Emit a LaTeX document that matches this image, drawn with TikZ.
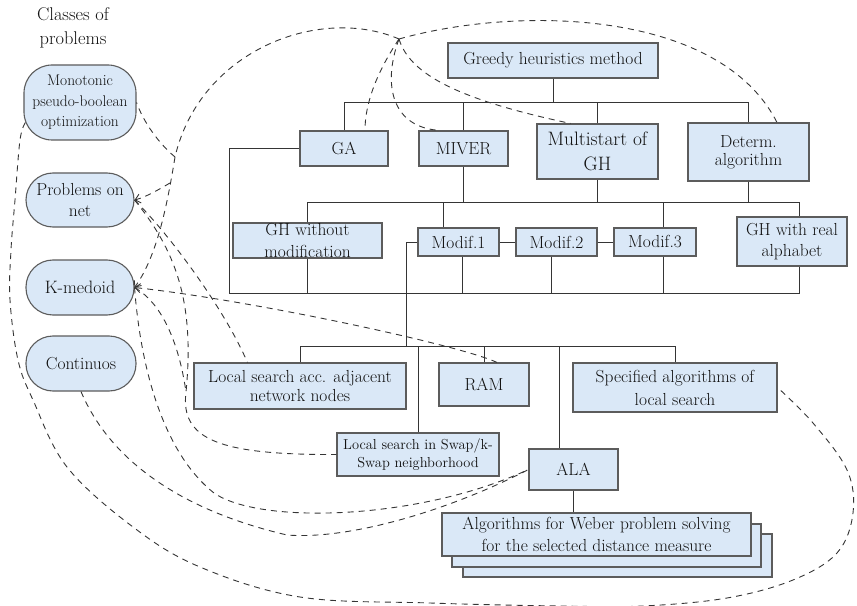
\documentclass[tikz,border=0pt]{standalone}
\usetikzlibrary{arrows.meta,calc}
\definecolor{boxfill}{HTML}{DAE8F7}
\definecolor{boxline}{HTML}{5C5C5C}
\definecolor{wire}{HTML}{353535}
\definecolor{ink}{HTML}{111111}
\newcommand{\fsz}[2]{\fontsize{#1}{#2}\selectfont}
\tikzset{
  box/.style={draw=boxline, fill=boxfill, line width=1.1bp, inner sep=0pt,
    align=center, text=ink, font=\fsz{17.5}{21.5}},
  cls/.style={box, rounded corners=27bp},
  tree/.style={draw=wire, line width=1bp},
  link/.style={draw=wire, line width=0.9bp, dash pattern=on 6bp off 5bp},
  tip/.style={-{Straight Barb[length=5bp,width=9bp]}},
}
\begin{document}
\begin{tikzpicture}[x=1bp,y=-1bp]
\useasboundingbox (0,0) rectangle (857,606);

% classes of problems
\node[font=\fsz{18.5}{24}, align=center, text=ink] (classes) at (73,28) {Classes of\\problems};
\node[cls, rounded corners=28bp, minimum width=112bp, minimum height=75bp,
  font=\fsz{15.5}{20.5}] (mono) at (80,102.5) {Monotonic\\pseudo-boolean\\optimization};
\node[cls, minimum width=108bp, minimum height=54bp] (prob) at (80,200) {Problems on\\net};
\node[cls, minimum width=108bp, minimum height=55bp, font=\fsz{18}{22}] (kmed) at (80,287.5) {K-medoid};
\node[cls, minimum width=110bp, minimum height=55bp] (cont) at (81,363.5) {Continuos};

% method tree
\node[box, minimum width=210bp, minimum height=35bp] (greedy) at (553,60.5) {Greedy heuristics method};
\node[box, minimum width=88bp, minimum height=35bp] (ga) at (344,148.5) {GA};
\node[box, minimum width=89bp, minimum height=35bp] (miver) at (463.5,148.5) {MIVER};
\node[box, minimum width=121bp, minimum height=55bp, font=\fsz{19.5}{25}] (multi) at (597.5,151.5) {Multistart of\\GH};
\node[box, minimum width=121bp, minimum height=58bp, font=\fsz{17.5}{18}] (determ) at (748.5,152) {Determ.\\algorithm};
\node[box] (ghwo) at (307.5,240.5) {\parbox[c][35bp][c]{149bp}{\centering GH without\\modification}};
\node[box, minimum width=81bp, minimum height=28bp] (m1) at (458.5,242) {Modif.1};
\node[box, minimum width=81bp, minimum height=28bp] (m2) at (556.5,242) {Modif.2};
\node[box, minimum width=82bp, minimum height=28bp] (m3) at (655,242) {Modif.3};
\node[box, minimum width=110bp, minimum height=49bp] (ghreal) at (792,241.5) {GH with real\\alphabet};

% local search level
\node[box, minimum width=212bp, minimum height=46bp, font=\fsz{17.5}{20}] (lsa) at (300,386) {Local search acc. adjacent\\network nodes};
\node[box, minimum width=90bp, minimum height=43bp] (ram) at (484,384.5) {RAM};
\node[box, minimum width=204bp, minimum height=49bp, font=\fsz{17.5}{23}] (spec) at (675,387.5) {Specified algorithms of\\local search};
\node[box, minimum width=162bp, minimum height=43bp, font=\fsz{14.5}{18.5}] (swap) at (418,454.5) {Local search in Swap/k-\\Swap neighborhood};
\node[box, minimum width=89bp, minimum height=41bp] (ala) at (573.5,469.5) {ALA};
\node[box, minimum width=309bp, minimum height=43bp] (weber3) at (617.5,555.5) {};
\node[box, minimum width=309bp, minimum height=43bp] (weber2) at (606.5,545.5) {};
\node[box, minimum width=309bp, minimum height=43bp, font=\fsz{17.5}{22}] (weber) at (596.5,534.5) {Algorithms for Weber problem solving\\for the selected distance measure};

% bus levels
\coordinate (bA) at (0,103);
\coordinate (bB) at (0,203);
\coordinate (cL) at (229,293);
\coordinate (bD) at (406,346);
\coordinate (grt) at ($(ghreal.north)+(7,0)$);
\coordinate (grb) at ($(ghreal.south)+(7,0)$);
\coordinate (m1t) at ($(m1.north)+(-15.5,0)$);
\coordinate (m1b) at ($(m1.south)+(3.5,0)$);
\coordinate (m2b) at ($(m2.south)+(-5.5,0)$);
\coordinate (m3t) at ($(m3.north)+(8,0)$);
\coordinate (m3b) at ($(m3.south)+(8,0)$);
\coordinate (alat) at ($(ala.north)+(-14.5,0)$);

\draw[tree] (greedy.south) -- (greedy.south |- bA);
\draw[tree] (ga.north) |- (bA -| determ.north) -- (determ.north);
\draw[tree] (miver.north) -- (miver.north |- bA);
\draw[tree] (multi.north) -- (multi.north |- bA);

\draw[tree] (ghwo.north) |- (bB -| grt) -- (grt);
\draw[tree] (miver.south) -- (miver.south |- bB);
\draw[tree] (multi.south) -- (multi.south |- bB);
\draw[tree] (determ.south) -- (determ.south |- bB);
\draw[tree] (m1t) -- (m1t |- bB);
\draw[tree] (m3t) -- (m3t |- bB);

\draw[tree] (ga.west) -| (cL) -- (cL -| grb) -- (grb);
\draw[tree] (ghwo.south) -- (ghwo.south |- cL);
\draw[tree] (m1b) -- (m1b |- cL);
\draw[tree] (m2b) -- (m2b |- cL);
\draw[tree] (m3b) -- (m3b |- cL);
\draw[tree] (m1.east) -- (m2.west);
\draw[tree] (m2.east) -- (m3.west);

\draw[tree] (m1.west) -| (bD);
\draw[tree] (lsa.north) |- (bD -| spec.north) -- (spec.north);
\draw[tree] (swap.north) -- (swap.north |- bD);
\draw[tree] (ram.north) -- (ram.north |- bD);
\draw[tree] (alat) -- (alat |- bD);
\draw[tree] (ala.south) -- (ala.south |- weber.north);

% dashed relations between problem classes and methods
\coordinate (H) at (399,39);
\coordinate (J1) at (175,157);
\coordinate (J2) at (170,183);
\coordinate (M) at (186,392);

\draw[link, tip] (H) .. controls (320,5) and (200,50) .. (J1)
  .. controls (168,200) and (158,255) .. (kmed.east);
\draw[link] (J1) .. controls (155,140) and (142,118) .. (mono.east);
\draw[link, tip] (J2) .. controls (158,190) and (146,197) .. (prob.east);

\draw[link] (H) .. controls (385,60) and (365,95) .. ($(ga.north)+(21,0)$);
\draw[link] (H) .. controls (382,85) and (392,128) .. ($(miver.north)+(-23,0)$);
\draw[link] (H) .. controls (410,75) and (460,100) .. ($(multi.north)+(-27,0)$);
\draw[link] (H) .. controls (520,5) and (720,10) .. ($(determ.north)+(28.5,0)$);

\draw[link, tip] ($(ram.north)+(13,0)$) .. controls (460,345) and (250,300) .. (kmed.east);
\draw[link] (prob.east) .. controls (170,235) and (225,310) .. ($(lsa.north west)+(54,0)$);
\draw[link] (prob.east) .. controls (175,250) and (195,300) .. (M)
  .. controls (180,440) and (220,455) .. (swap.west);
\draw[link] (kmed.east) .. controls (165,305) and (180,350) .. (M);
\draw[link] (kmed.east) .. controls (140,360) and (160,450) .. (214,493)
  .. controls (260,525) and (420,520) .. (ala.west);
\draw[link] (cont.south) .. controls (110,460) and (180,510) .. (287,535)
  .. controls (350,540) and (450,510) .. (ala.west);

\draw[link] plot[smooth, tension=0.6] coordinates {($(mono.west)+(2,20)$) (20,140) (15,200) (11,250)
  (10,300) (18,360) (33,400) (67,467) (133,527) (200,567) (300,597) (430,603) (560,606)
  (643,606) (727,598) (793,580) (837,553) (853,513) (847,470) (813,423) (spec.east)};
\end{tikzpicture}
\end{document}
